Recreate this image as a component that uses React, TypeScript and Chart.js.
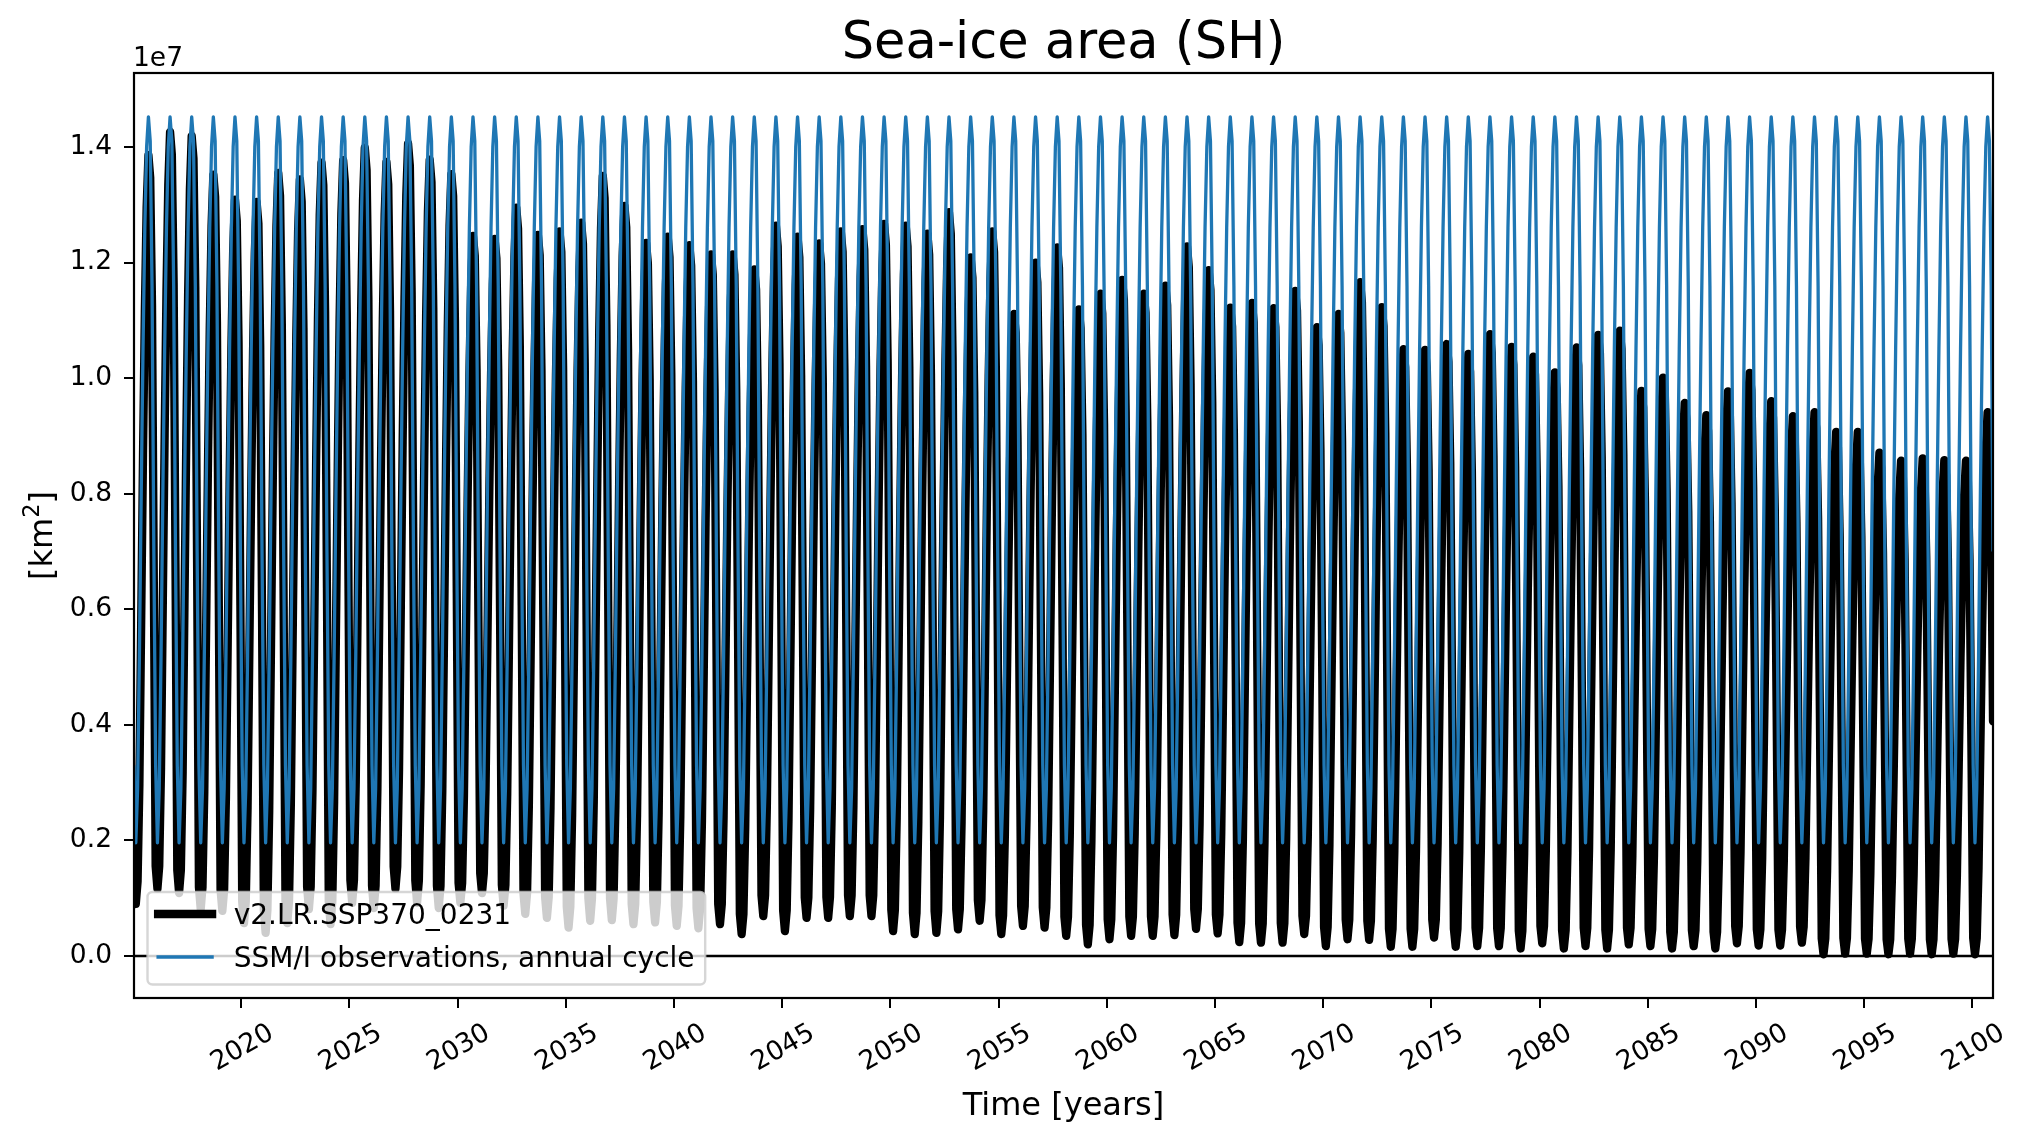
import React, { useEffect, useRef } from "react";
import { Chart, registerables } from "chart.js";

Chart.register(...registerables);

const FONT = '"DejaVu Sans", "Liberation Sans", sans-serif';
const TITLE = "Sea-ice area (SH)";
const X_LABEL = "Time [years]";
const Y_LABEL_MAIN = "[km";
const Y_LABEL_SUP = "2";
const Y_LABEL_END = "]";
const OFFSET_TEXT = "1e7";
const MODEL_LABEL = "v2.LR.SSP370_0231";
const OBS_LABEL = "SSM/I observations, annual cycle";
const SCALE = 1e7;

// categories: years 2015..2100, monthly values
const FIRST_YEAR = 2015;
const LAST_YEAR = 2100;
const YEARS = Array.from({ length: LAST_YEAR - FIRST_YEAR + 1 }, (_, i) => FIRST_YEAR + i);
const MONTHS = ["Jan", "Feb", "Mar", "Apr", "May", "Jun", "Jul", "Aug", "Sep", "Oct", "Nov", "Dec"];

// model: yearly maximum (Sep) in units of 1e7 km^2
const MODEL_MAX = [
  1.386, 1.426, 1.419, 1.352, 1.309, 1.305, 1.355, 1.344, 1.373, 1.377,
  1.399, 1.374, 1.406, 1.378, 1.353, 1.246, 1.241, 1.295, 1.248, 1.254,
  1.269, 1.35, 1.298, 1.234, 1.245, 1.23, 1.214, 1.214, 1.188, 1.264,
  1.245, 1.233, 1.254, 1.258, 1.267, 1.264, 1.25, 1.287, 1.209, 1.254,
  1.111, 1.2, 1.226, 1.119, 1.146, 1.17, 1.146, 1.16, 1.228, 1.187,
  1.122, 1.13, 1.121, 1.151, 1.088, 1.111, 1.166, 1.123, 1.05, 1.049,
  1.059, 1.042, 1.076, 1.054, 1.037, 1.01, 1.053, 1.075, 1.082, 0.978,
  1.001, 0.957, 0.936, 0.977, 1.009, 0.96, 0.934, 0.941, 0.907, 0.907,
  0.871, 0.857, 0.861, 0.858, 0.857, 0.941,
];

// model: yearly minimum (Feb) in units of 1e7 km^2
const MODEL_MIN = [
  0.09, 0.116, 0.109, 0.081, 0.078, 0.057, 0.04, 0.057, 0.081, 0.055,
  0.092, 0.083, 0.116, 0.092, 0.083, 0.092, 0.109, 0.087, 0.073, 0.066,
  0.049, 0.061, 0.062, 0.055, 0.058, 0.052, 0.048, 0.055, 0.038, 0.069,
  0.043, 0.066, 0.066, 0.069, 0.069, 0.043, 0.038, 0.04, 0.046, 0.061,
  0.038, 0.052, 0.049, 0.035, 0.02, 0.029, 0.035, 0.035, 0.036, 0.047,
  0.039, 0.024, 0.023, 0.023, 0.038, 0.017, 0.029, 0.028, 0.016, 0.016,
  0.032, 0.016, 0.017, 0.017, 0.013, 0.022, 0.013, 0.017, 0.013, 0.02,
  0.017, 0.013, 0.017, 0.013, 0.022, 0.018, 0.018, 0.023, 0.003, 0.004,
  0.004, 0.003, 0.004, 0.003, 0.004, 0.003,
];

// model seasonal cycle position between the year's min (0) and max (1), Jan..Dec
const MODEL_SEASON = [0.03, 0.0, 0.03, 0.16, 0.38, 0.6, 0.79, 0.93, 1.0, 0.97, 0.8, 0.43];

// observed SSM/I annual cycle, Jan..Dec, 1e7 km^2
const OBS_CYCLE = [0.33, 0.196, 0.29, 0.52, 0.8, 1.05, 1.26, 1.4, 1.452, 1.41, 1.16, 0.7];

const X_TICKS = [2020, 2025, 2030, 2035, 2040, 2045, 2050, 2055, 2060, 2065, 2070, 2075, 2080, 2085, 2090, 2095, 2100];
const Y_TICKS = [0.0, 0.2, 0.4, 0.6, 0.8, 1.0, 1.2, 1.4];
const Y_MIN = -0.0727;
const Y_MAX = 1.528;

const monthTime = (year: number, m: number) => year + (m + 0.5) / 12;
const X_MIN = monthTime(FIRST_YEAR, 0);
const X_MAX = monthTime(LAST_YEAR, MONTHS.length - 1);

const modelPoints: { x: number; y: number }[] = [];
const obsPoints: { x: number; y: number }[] = [];
YEARS.forEach((yr, i) => {
  MONTHS.forEach((_, m) => {
    const v = MODEL_MIN[i] + MODEL_SEASON[m] * (MODEL_MAX[i] - MODEL_MIN[i]);
    modelPoints.push({ x: monthTime(yr, m), y: v * SCALE });
    obsPoints.push({ x: monthTime(yr, m), y: OBS_CYCLE[m] * SCALE });
  });
});

const TICK_FS = 26.5;
const LEGEND_FS = 28;
const LABEL_FS = 32;
const TITLE_FS = 51;

const decorPlugin = {
  id: "decor",
  afterDatasetsDraw(chart: any) {
    const { ctx, chartArea: a } = chart;
    ctx.save();
    // spines
    ctx.strokeStyle = "#000";
    ctx.lineWidth = 2.2;
    ctx.strokeRect(a.left, a.top, a.right - a.left, a.bottom - a.top);

    // legend
    const items = chart.data.datasets.filter((d: any) => d.label);
    ctx.font = `${LEGEND_FS}px ${FONT}`;
    const textW = Math.max(...items.map((d: any) => ctx.measureText(d.label).width));
    const left = a.left + 13.5;
    const bottom = a.bottom - 13.5;
    const top = bottom - 92.5;
    const pad = 10.6;
    const handleLen = 54;
    const gap = 21.6;
    const width = pad + handleLen + gap + textW + pad;
    ctx.beginPath();
    (ctx as any).roundRect(left, top, width, bottom - top, 5);
    ctx.fillStyle = "rgba(255,255,255,0.8)";
    ctx.fill();
    ctx.strokeStyle = "rgba(204,204,204,0.8)";
    ctx.lineWidth = 2.4;
    ctx.stroke();
    items.forEach((d: any, i: number) => {
      const cy = top + 22 + i * 43;
      ctx.beginPath();
      ctx.moveTo(left + pad, cy);
      ctx.lineTo(left + pad + handleLen, cy);
      ctx.strokeStyle = d.borderColor;
      ctx.lineWidth = d.borderWidth;
      ctx.lineCap = "square";
      ctx.stroke();
      ctx.fillStyle = "#000";
      ctx.textAlign = "left";
      ctx.textBaseline = "alphabetic";
      ctx.fillText(d.label, left + pad + handleLen + gap, cy + 0.365 * LEGEND_FS);
    });
    ctx.restore();
  },
  afterDraw(chart: any) {
    const { ctx, chartArea: a, scales } = chart;
    const cx = (a.left + a.right) / 2;
    const cyA = (a.top + a.bottom) / 2;
    ctx.save();
    ctx.fillStyle = "#000";

    // title
    ctx.font = `${TITLE_FS}px ${FONT}`;
    ctx.textAlign = "center";
    ctx.textBaseline = "alphabetic";
    ctx.fillText(TITLE, cx, a.top - 15);

    // offset text
    ctx.font = `${TICK_FS}px ${FONT}`;
    ctx.textAlign = "left";
    ctx.fillText(OFFSET_TEXT, a.left - 1, a.top - 7);

    // x tick labels, rotated 30 degrees, centred on tick
    const ang = (30 * Math.PI) / 180;
    ctx.font = `${TICK_FS}px ${FONT}`;
    X_TICKS.forEach((v) => {
      const px = scales.x.getPixelForValue(v);
      const label = String(v);
      const w = ctx.measureText(label).width;
      const h = TICK_FS * 1.164;
      const bh = w * Math.sin(ang) + h * Math.cos(ang);
      const py = a.bottom + 18 + bh / 2;
      ctx.save();
      ctx.translate(px, py);
      ctx.rotate(-ang);
      ctx.textAlign = "center";
      ctx.textBaseline = "alphabetic";
      ctx.fillText(label, 0, 0.346 * TICK_FS);
      ctx.restore();
    });

    // x label
    ctx.font = `${LABEL_FS}px ${FONT}`;
    ctx.textAlign = "center";
    ctx.fillText(X_LABEL, cx, 1115);

    // y label with superscript
    ctx.save();
    ctx.translate(52, cyA);
    ctx.rotate(-Math.PI / 2);
    ctx.textAlign = "left";
    ctx.font = `${LABEL_FS}px ${FONT}`;
    const w1 = ctx.measureText(Y_LABEL_MAIN).width;
    const w3 = ctx.measureText(Y_LABEL_END).width;
    ctx.font = `${LABEL_FS * 0.7}px ${FONT}`;
    const w2 = ctx.measureText(Y_LABEL_SUP).width;
    const total = w1 + w2 + w3;
    let x0 = -total / 2;
    ctx.font = `${LABEL_FS}px ${FONT}`;
    ctx.fillText(Y_LABEL_MAIN, x0, 0);
    x0 += w1;
    ctx.font = `${LABEL_FS * 0.7}px ${FONT}`;
    ctx.fillText(Y_LABEL_SUP, x0, -0.42 * LABEL_FS);
    x0 += w2;
    ctx.font = `${LABEL_FS}px ${FONT}`;
    ctx.fillText(Y_LABEL_END, x0, 0);
    ctx.restore();

    ctx.restore();
  },
};

export default function App() {
  const ref = useRef<HTMLCanvasElement | null>(null);

  useEffect(() => {
    if (!ref.current) return;
    const tickGrid = {
      drawOnChartArea: false,
      drawTicks: true,
      tickLength: 10,
      color: "#000",
      lineWidth: 2,
    };
    const chart = new Chart(ref.current, {
      type: "line",
      data: {
        datasets: [
          {
            label: MODEL_LABEL,
            data: modelPoints,
            borderColor: "#000000",
            borderWidth: 8.3,
            pointRadius: 0,
            tension: 0,
            borderJoinStyle: "round",
            borderCapStyle: "round",
            clip: 0,
            order: 3,
          } as any,
          {
            label: OBS_LABEL,
            data: obsPoints,
            borderColor: "#1f77b4",
            borderWidth: 3.3,
            pointRadius: 0,
            tension: 0,
            borderJoinStyle: "round",
            clip: 0,
            order: 2,
          } as any,
          {
            label: "",
            data: [
              { x: X_MIN, y: 0 },
              { x: X_MAX, y: 0 },
            ],
            borderColor: "#000000",
            borderWidth: 2.6,
            pointRadius: 0,
            clip: 0,
            order: 1,
          } as any,
        ],
      },
      options: {
        animation: false,
        responsive: true,
        maintainAspectRatio: false,
        events: [],
        layout: { padding: { top: 73, right: 37, left: 0, bottom: 0 } },
        plugins: {
          legend: { display: false },
          title: { display: false },
          tooltip: { enabled: false },
        },
        scales: {
          x: {
            type: "linear",
            min: X_MIN,
            max: X_MAX,
            ticks: { display: false, autoSkip: false },
            grid: tickGrid,
            border: { display: false },
            afterBuildTicks: (s: any) => {
              s.ticks = X_TICKS.map((v) => ({ value: v }));
            },
            afterFit: (s: any) => {
              s.height = 143;
            },
          },
          y: {
            type: "linear",
            min: Y_MIN * SCALE,
            max: Y_MAX * SCALE,
            ticks: {
              autoSkip: false,
              padding: 12,
              color: "#000",
              font: { family: FONT, size: TICK_FS },
              callback: (v: any) => (Number(v) / SCALE).toFixed(1),
            },
            grid: tickGrid,
            border: { display: false },
            afterBuildTicks: (s: any) => {
              s.ticks = Y_TICKS.map((v) => ({ value: v * SCALE }));
            },
            afterFit: (s: any) => {
              s.width = 134;
            },
          },
        },
      } as any,
      plugins: [decorPlugin],
    });
    return () => chart.destroy();
  }, []);

  return (
    <div
      style={{
        position: "fixed",
        left: 0,
        top: 0,
        width: 2030,
        height: 1141,
        background: "#ffffff",
      }}
    >
      <canvas ref={ref} />
    </div>
  );
}
